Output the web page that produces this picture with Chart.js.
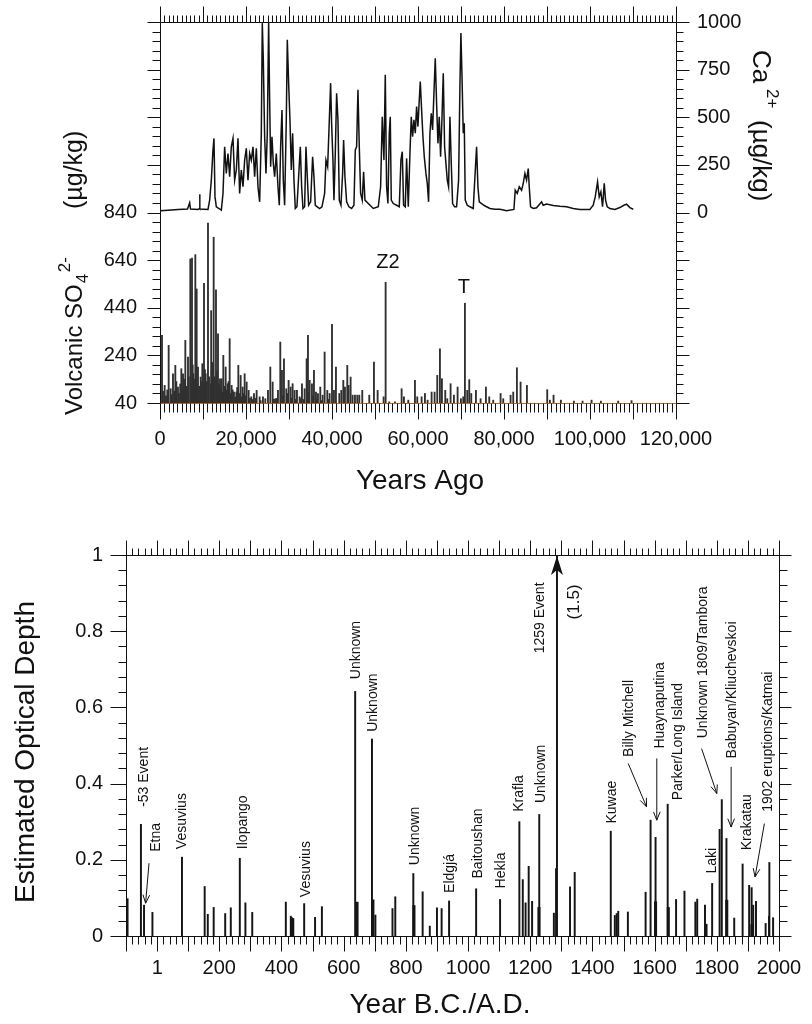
<!DOCTYPE html>
<html><head><meta charset="utf-8">
<script src="https://cdn.jsdelivr.net/npm/chart.js@4.4.1/dist/chart.umd.min.js"></script>
<style>
html,body{margin:0;padding:0;background:#fff;}
#wrap{position:relative;width:812px;height:1024px;overflow:hidden;}
canvas{position:absolute;left:0;}
</style></head><body>
<div id="wrap">
<canvas id="top" width="812" height="520" style="top:0"></canvas>
<canvas id="bot" width="812" height="504" style="top:520px"></canvas>
</div>
<script>
// ---------------- TOP PANEL DATA ----------------
// Ca2+ (µg/kg) versus years ago
const caYears = [0,1860,4185,6400,6900,7100,8835,9150,9220,9300,11160,11550,11935,12320,12555,12790,13100,13720,14260,14650,15035,15420,15810,16200,16585,16975,17360,17750,18135,18520,18910,19300,19685,20070,20460,20850,21235,21625,22010,22400,22785,23175,23560,23790,24025,24335,24645,24955,25265,25500,25730,26040,26350,26660,27050,27435,27745,28055,28365,28675,28985,29370,29605,29915,30225,30535,30845,31155,31465,31850,32240,32630,32940,33250,33635,33945,34255,34565,35030,35495,35805,36115,36580,37120,37665,38285,38595,38985,39295,39680,39910,40220,40455,40765,41075,41385,41695,42080,42470,42700,43010,43400,43940,44560,45105,45415,45725,46035,46345,46655,47040,47350,47660,48440,49600,50760,51305,51690,52080,52390,52700,53010,53320,53550,53785,54250,55025,55645,56030,56340,56650,57040,57350,57740,58125,58435,58745,59055,59365,59675,59985,60295,60530,60840,61150,61460,61845,62155,62465,62775,63085,63395,63705,64015,64325,64635,64945,65255,65565,65875,66185,66495,66805,67115,67425,67735,68045,68510,68975,69440,69750,69980,70215,70525,70760,70990,71455,72075,72850,73240,73625,73935,74245,74790,75330,75950,76725,77890,79050,80600,82305,82615,83080,83550,84090,84475,84865,85250,85640,85870,86180,86800,87575,88740,89125,89900,91450,93000,94550,96100,97650,99975,100750,101215,101760,102145,102530,102920,103310,103620,104005,104625,105790,106950,107880,108500,109275,110050];
const caValues = [9,12,16,18,51,18,16,20,96,18,16,65,170,328,389,82,30,21,12,100,345,205,310,188,345,389,170,223,389,100,223,135,275,337,170,310,275,345,188,337,135,56,416,994,802,398,205,416,1000,591,240,398,258,188,310,135,38,345,538,170,38,486,907,679,486,223,416,170,21,30,188,345,135,21,30,345,188,38,56,293,188,38,30,21,30,100,275,240,433,679,468,275,65,310,626,486,65,38,205,380,188,56,30,21,38,328,345,644,345,100,65,214,65,47,21,30,135,503,275,723,135,47,416,503,65,47,38,30,275,319,38,30,284,30,310,503,398,486,416,556,451,591,688,538,398,293,205,153,56,416,521,433,626,810,574,363,503,293,486,731,345,258,170,135,503,258,47,30,30,170,661,942,731,416,468,65,38,30,21,188,345,135,56,47,38,30,21,17,17,9,16,117,100,135,117,153,205,170,231,135,30,21,25,56,38,44,37,33,30,21,16,16,38,82,161,82,109,30,153,65,30,21,16,26,38,44,26,17];

// Volcanic SO4 2- (µg/kg) spikes versus years ago
const so4Years = [465,1085,2015,2480,3020,3565,4185,4960,5350,5890,6510,7050,7440,7750,8215,8525,8835,9455,9845,10230,10620,11160,11900,12015,12480,13020,13485,13950,14340,14725,15270,15730,16200,16660,17205,17750,18215,18755,19220,19685,20150,20615,21235,21855,22475,23170,23945,24490,25110,25650,26195,26815,27435,27975,28365,28830,29370,29915,30380,30845,31310,31850,32470,33015,33635,34100,34410,34800,35340,35805,36270,36735,37275,37820,38285,38905,39450,40000,40455,40920,41695,42160,42625,43010,43555,43865,44330,44795,45340,45880,46345,47040,48670,49755,50610,52005,52470,53320,54640,56190,56730,57740,59290,59830,60840,61610,62230,63165,63860,64480,65100,65565,66340,66805,67580,68355,69210,69980,70525,70910,71455,71920,72385,73470,74555,75795,76570,77500,79205,79825,81530,82150,83000,83855,85330,90055,90675,91525,93230,96255,98270,100365,102530,106560,109660,
  700,1400,1700,2700,3300,3800,4400,4700,5100,5600,6200,6700,7250,7600,8000,8400,8650,9100,9650,10050,10450,10850,11400,11850,12250,12700,13250,13700,14100,14500,15000,15500,15950,16450,16900,17500,17950,18500,19000,19450,19900,20900,21500,22200,23400,26500,27200,28600,29700,30600,31600,32800,33400,34600,35600,36500,37600,39100];
const so4Values = [324,114,282,100,163,198,107,184,163,303,233,645,649,163,663,519,191,149,205,543,163,796,428,177,736,515,331,142,142,240,191,121,310,114,86,86,198,156,107,163,128,93,66,80,93,66,66,58,93,191,128,58,93,296,177,226,100,135,107,121,93,93,66,121,100,226,324,135,121,177,86,80,107,73,254,93,80,370,93,191,80,93,135,107,198,114,149,73,73,73,73,93,73,212,93,66,547,45,45,100,66,52,135,66,66,80,52,86,86,156,268,142,93,58,121,73,107,58,66,459,93,138,80,93,58,107,66,52,80,58,73,86,188,128,114,96,52,73,52,48,48,52,48,48,50,
  90,70,95,75,90,130,80,120,95,140,110,150,120,200,140,175,120,110,130,120,180,130,150,120,210,150,175,120,100,85,110,95,130,80,95,65,105,80,65,80,70,60,55,60,50,55,60,70,80,60,55,60,55,85,70,55,50,55];

const topXTicks = [0,20000,40000,60000,80000,100000,120000];
const topXTickText = ['0','20,000','40,000','60,000','80,000','100,000','120,000'];
const so4Ticks = [40,240,440,640,840];
const caTicks = [0,250,500,750,1000];
const topMarkers = [['Z2',53000,629],['T',70680,525]];

// ---------------- BOTTOM PANEL DATA (optical depth) ----------------
const odYears  = [-95,-52,-42,-15,80,153,163,182,219,237,266,284,306,414,430,434,438,473,508,530,637,691,702,757,766,824,854,877,900,915,939,1026,1103,1165,1176,1185,1195,1206,1229,1276,1283,1286,1328,1343,1459,1472,1478,1483,1514,1571,1587,1603,1642,1669,1696,1731,1737,1762,1767,1785,1809,1816,1831,1856,1883,1904,1912,1917,1926,1957,1968,1969,1981];
const odValues = [0.098,0.293,0.081,0.062,0.207,0.130,0.057,0.075,0.059,0.074,0.204,0.087,0.062,0.089,0.052,0.048,0.046,0.085,0.049,0.077,0.642,0.517,0.055,0.072,0.103,0.164,0.116,0.026,0.074,0.072,0.092,0.124,0.096,0.300,0.148,0.087,0.183,0.091,0.319,0.060,0.177,1.5,0.129,0.167,0.275,0.054,0.059,0.065,0.063,0.115,0.304,0.259,0.346,0.096,0.118,0.089,0.097,0.081,0.031,0.138,0.280,0.358,0.256,0.047,0.189,0.133,0.127,0.081,0.091,0.033,0.052,0.193,0.048];
const odThickYears  = [643,694,826,1228,1603,1644,1832,1913];
const odThickValues = [0.089,0.095,0.080,0.075,0.090,0.075,0.094,0.030];

const botXTicks = [1,200,400,600,800,1000,1200,1400,1600,1800,2000];
const botYTicks = [0,0.2,0.4,0.6,0.8,1];
const botYTickText = ['0','0.2','0.4','0.6','0.8','1'];
const odLabels = [
  ['-53 Event',-41,0.339],['Etna',-4,0.221],['Vesuvius',79,0.228],['Ilopango',277,0.228],
  ['Vesuvius',478,0.102],['Unknown',640,0.674],['Unknown',695,0.536],['Unknown',829,0.186],
  ['Eldgjá',942,0.113],['Baitoushan',1033,0.151],['Hekla',1108,0.125],['Krafla',1164,0.326],
  ['Unknown',1234,0.349],['1259 Event',1231,0.742],['Kuwae',1465,0.295],
  ['Billy Mitchell',1519,0.470],['Huaynaputina',1617,0.492],['Parker/Long Island',1676,0.356],
  ['Unknown 1809/Tambora',1757,0.519],['Laki',1784,0.164],['Babuyan/Kliuchevskoi',1848,0.466],
  ['Krakatau',1896,0.225],['1902 eruptions/Katmai',1964,0.326]
];
const bigEventLabel = ['(1.5)',1341,0.831];
const bigEventYear = 1286;
const odArrows = [
  [-26,0.191,-37,0.086],[1515,0.453,1574,0.339],[1607,0.466,1607,0.304],
  [1751,0.492,1800,0.374],[1846,0.444,1846,0.286],[1953,0.295,1923,0.155]
];

// ---------------- helpers ----------------
const FONT = '"Liberation Sans", Arial, Helvetica, sans-serif';
const INK = '#111';
function seq(a, step, n){ const o=[]; for(let i=0;i<=n;i++) o.push(a+i*step); return o; }
const pts = (xs, ys) => xs.map((x,i)=>({x:x, y:ys[i]}));
function crisp(p){ return Math.round(p)+0.5; }
function drawTicks(ctx, side, scale, vals, every, minorLen, majorLen, a){
  const L0 = crisp(a.left), R0 = crisp(a.right), T0 = crisp(a.top), B0 = crisp(a.bottom);
  ctx.beginPath();
  vals.forEach((v,i)=>{
    const L = (i % every === 0) ? majorLen : minorLen;
    const p = crisp(scale.getPixelForValue(v));
    if (side==='top'){ ctx.moveTo(p,T0); ctx.lineTo(p,T0-L); }
    else if (side==='bottom'){ ctx.moveTo(p,B0); ctx.lineTo(p,B0+L); }
    else if (side==='left'){ ctx.moveTo(L0,p); ctx.lineTo(L0-L,p); }
    else { ctx.moveTo(R0,p); ctx.lineTo(R0+L,p); }
  });
  ctx.stroke();
}
function seg(ctx,x1,y1,x2,y2){ ctx.beginPath(); ctx.moveTo(x1,y1); ctx.lineTo(x2,y2); ctx.stroke(); }
function rotText(ctx, text, x, y, ang, font, align, base){
  ctx.save(); ctx.translate(x,y); ctx.rotate(ang); ctx.font=font;
  ctx.textAlign=align||'left'; ctx.textBaseline=base||'alphabetic'; ctx.fillText(text,0,0); ctx.restore();
}

// ---------------- TOP CHART ----------------
const topDecor = {
  id:'topDecor',
  afterDraw(chart){
    const {ctx, chartArea:a, scales:{x, y, yCa}} = chart;
    ctx.save();
    ctx.lineWidth = 1; ctx.strokeStyle = INK; ctx.fillStyle = INK;
    const L0=crisp(a.left), R0=crisp(a.right), T0=crisp(a.top), B0=crisp(a.bottom);
    seg(ctx,L0,T0,R0,T0); seg(ctx,L0,T0,L0,B0); seg(ctx,R0,T0,R0,B0);
    ctx.strokeStyle = '#b36a34'; seg(ctx,L0,B0,R0,B0); ctx.strokeStyle = INK;
    const xv = seq(0,1000,120);
    drawTicks(ctx,'top',x,xv,10,7,16,a);
    drawTicks(ctx,'bottom',x,xv,10,9,16,a);
    drawTicks(ctx,'left',y,seq(40,40,40),5,8,13,a);
    drawTicks(ctx,'right',yCa,seq(-1000,50,40),5,7,13,a);
    ctx.font = '20px '+FONT; ctx.textBaseline='middle';
    ctx.textAlign='center';
    topXTicks.forEach((v,i)=>ctx.fillText(topXTickText[i], x.getPixelForValue(v), 439));
    ctx.textAlign='right';
    so4Ticks.forEach(v=>ctx.fillText(String(v), 137, y.getPixelForValue(v)));
    ctx.textAlign='left';
    caTicks.forEach(v=>ctx.fillText(String(v), 697, yCa.getPixelForValue(v)));
    ctx.textAlign='center'; ctx.font='20px '+FONT;
    topMarkers.forEach(m=>ctx.fillText(m[0], x.getPixelForValue(m[1]), y.getPixelForValue(m[2])));
    ctx.font='28px '+FONT; ctx.textAlign='center'; ctx.textBaseline='middle';
    ctx.fillText('Years Ago', 420, 481);
    // left title: Volcanic SO4 2- (µg/kg)
    ctx.save(); ctx.translate(82,415); ctx.rotate(-Math.PI/2);
    ctx.textAlign='left'; ctx.textBaseline='alphabetic';
    ctx.font='24px '+FONT; ctx.fillText('Volcanic SO',0,0);
    const w1 = ctx.measureText('Volcanic SO').width;
    ctx.font='17px '+FONT; ctx.fillText('4', w1+1, 6);
    ctx.fillText('2-', w1+12, -12);
    ctx.font='25px '+FONT; ctx.fillText('(µg/kg)', 206, 0);
    ctx.restore();
    // right title: Ca2+ (µg/kg)
    ctx.save(); ctx.translate(753,50); ctx.rotate(Math.PI/2);
    ctx.textAlign='left'; ctx.textBaseline='alphabetic';
    ctx.font='26px '+FONT; ctx.fillText('Ca',0,0);
    ctx.font='17px '+FONT; ctx.fillText('2+',39,-14);
    ctx.font='26px '+FONT; ctx.fillText('(µg/kg)',70,0);
    ctx.restore();
    ctx.restore();
  }
};

new Chart(document.getElementById('top'), {
  type:'line',
  data:{ datasets:[
    { type:'bar', label:'Volcanic SO4', data:pts(so4Years, so4Values), yAxisID:'y',
      backgroundColor:'#303030', borderWidth:0, barThickness:1.2, base:40, grouped:false, order:2 },
    { type:'line', label:'Ca2+', data:pts(caYears, caValues), yAxisID:'yCa',
      borderColor:'#111', borderWidth:1.5, pointRadius:0, tension:0, fill:false, order:1 }
  ]},
  options:{
    responsive:false, animation:false, devicePixelRatio:1,
    layout:{padding:{left:160, right:136, top:22, bottom:117}},
    plugins:{legend:{display:false}, tooltip:{enabled:false}},
    scales:{
      x:{type:'linear', min:0, max:120000, display:false, offset:false},
      y:{type:'linear', min:40, max:1640, display:false},
      yCa:{type:'linear', min:-1000, max:1000, display:false, position:'right'}
    }
  },
  plugins:[topDecor]
});

// ---------------- BOTTOM CHART ----------------
function drawArrow(ctx, x1,y1,x2,y2){
  seg(ctx,x1,y1,x2,y2);
  const ang = Math.atan2(y2-y1, x2-x1), h = 9, s = 0.38;
  ctx.beginPath();
  ctx.moveTo(x2 - h*Math.cos(ang-s), y2 - h*Math.sin(ang-s));
  ctx.lineTo(x2,y2);
  ctx.lineTo(x2 - h*Math.cos(ang+s), y2 - h*Math.sin(ang+s));
  ctx.stroke();
}
const botDecor = {
  id:'botDecor',
  afterDraw(chart){
    const {ctx, chartArea:a, scales:{x, y}} = chart;
    ctx.save();
    ctx.lineWidth=1; ctx.strokeStyle=INK; ctx.fillStyle=INK;
    const L0=crisp(a.left), R0=crisp(a.right), T0=crisp(a.top), B0=crisp(a.bottom);
    ctx.strokeRect(L0, T0, R0-L0, B0-T0);
    const xv = seq(-100,20,105);
    drawTicks(ctx,'top',x,xv,5,7,15,a);
    drawTicks(ctx,'bottom',x,xv,5,8,15,a);
    const yv = seq(0,0.04,25);
    drawTicks(ctx,'left',y,yv,5,8,16,a);
    drawTicks(ctx,'right',y,yv,5,8,12,a);
    ctx.font='20px '+FONT; ctx.textBaseline='middle'; ctx.textAlign='center';
    botXTicks.forEach(v=>ctx.fillText(String(v), x.getPixelForValue(v), 448));
    ctx.textAlign='right';
    botYTicks.forEach((v,i)=>ctx.fillText(botYTickText[i], 103, y.getPixelForValue(v)));
    ctx.font='28px '+FONT; ctx.textAlign='center'; ctx.textBaseline='middle';
    ctx.fillText('Year B.C./A.D.', 440, 485);
    rotText(ctx,'Estimated Optical Depth',34,232,-Math.PI/2,'28px '+FONT,'center','alphabetic');
    odLabels.forEach(l=>rotText(ctx,l[0],x.getPixelForValue(l[1]),y.getPixelForValue(l[2]),-Math.PI/2,'14px '+FONT,'left','middle'));
    rotText(ctx,bigEventLabel[0],x.getPixelForValue(bigEventLabel[1]),y.getPixelForValue(bigEventLabel[2]),-Math.PI/2,'17px '+FONT,'left','middle');
    ctx.lineWidth=1;
    odArrows.forEach(r=>drawArrow(ctx,x.getPixelForValue(r[0]),y.getPixelForValue(r[1]),x.getPixelForValue(r[2]),y.getPixelForValue(r[3])));
    const px = x.getPixelForValue(bigEventYear), py = y.getPixelForValue(1);
    ctx.beginPath();
    ctx.moveTo(px, py+1); ctx.lineTo(px-6, py+20); ctx.lineTo(px, py+15); ctx.lineTo(px+6, py+20); ctx.closePath();
    ctx.fill();
    ctx.restore();
  }
};

new Chart(document.getElementById('bot'), {
  type:'line',
  data:{ datasets:[
    { type:'bar', label:'Optical depth', data:pts(odYears, odValues),
      backgroundColor:'#151515', borderWidth:0, barThickness:1.3, base:0, grouped:false },
    { type:'bar', label:'Optical depth (heavy)', data:pts(odThickYears, odThickValues),
      backgroundColor:'#151515', borderWidth:0, barThickness:2.4, base:0, grouped:false }
  ]},
  options:{
    responsive:false, animation:false, devicePixelRatio:1,
    layout:{padding:{left:126, right:33, top:35, bottom:88}},
    plugins:{legend:{display:false}, tooltip:{enabled:false}},
    scales:{
      x:{type:'linear', min:-100, max:2000, display:false, offset:false},
      y:{type:'linear', min:0, max:1, display:false}
    }
  },
  plugins:[botDecor]
});
</script>
</body></html>
